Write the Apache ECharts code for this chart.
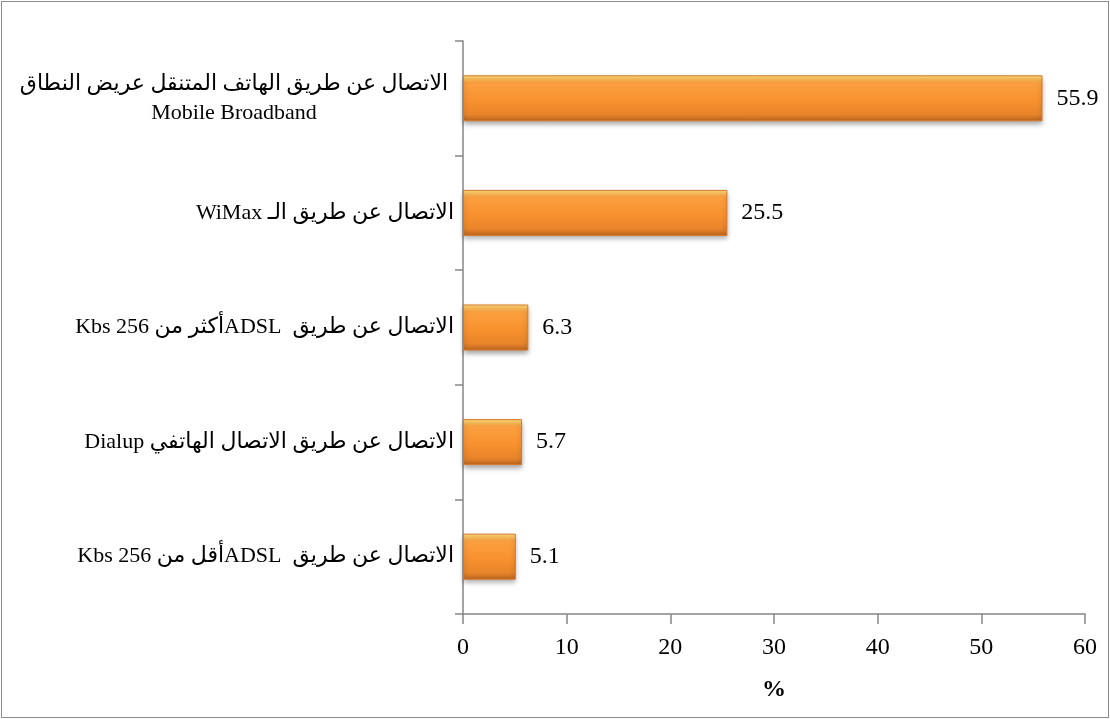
<!DOCTYPE html>
<html>
<head>
<meta charset="utf-8">
<script src="https://cdn.jsdelivr.net/npm/echarts@6/dist/echarts.min.js"></script>
<style>
  html, body { margin: 0; padding: 0; background: #fff; }
  #frame { position: absolute; left: 1px; top: 1px; width: 1106px; height: 715px; border: 1px solid #8c8c8c; }
  #chart { position: absolute; left: 0; top: 0; width: 1110px; height: 719px; }
</style>
</head>
<body>
<div id="frame"></div>
<div id="chart"></div>
<script>
// البيانات
var categories = [
    'الاتصال عن طريق الهاتف المتنقل عريض النطاق\nMobile Broadband',
    'الاتصال عن طريق الـ WiMax',
    'الاتصال عن طريق  ADSLأكثر من 256 Kbs',
    'الاتصال عن طريق الاتصال الهاتفي Dialup',
    'الاتصال عن طريق  ADSLأقل من 256 Kbs'
];
var values = [55.9, 25.5, 6.3, 5.7, 5.1];
var xTicks = { min: 0, max: 60, interval: 10 };

var FONT = "'Liberation Serif', 'DejaVu Sans', serif";

// تضمين النص باتجاه من اليمين لليسار
function rtl(s) {
    return '\u202B' + s + '\u202C';
}

var chart = echarts.init(document.getElementById('chart'));

var option = {
    animation: false,
    grid: { left: 463, right: 25, top: 41, bottom: 105 },
    xAxis: {
        type: 'value',
        min: xTicks.min,
        max: xTicks.max,
        interval: xTicks.interval,
        name: '%',
        nameLocation: 'middle',
        nameGap: 64,
        nameTextStyle: { fontFamily: FONT, fontSize: 24, fontWeight: 'bold', color: '#000' },
        axisLine: { show: true, lineStyle: { color: '#868686', width: 1.5 } },
        axisTick: { show: true, length: 10, lineStyle: { color: '#868686', width: 1.5 } },
        axisLabel: { fontFamily: FONT, fontSize: 24, color: '#000', margin: 22 },
        splitLine: { show: false }
    },
    yAxis: {
        type: 'category',
        inverse: true,
        data: categories,
        axisLine: { show: true, lineStyle: { color: '#868686', width: 1.5 } },
        axisTick: { show: true, length: 8, lineStyle: { color: '#868686', width: 1.5 } },
        axisLabel: {
            fontFamily: FONT,
            fontSize: 22,
            color: '#000',
            margin: 9,
            lineHeight: 29,
            formatter: function (v) {
                var parts = v.split('\n');
                if (parts.length > 1) {
                    return '{c|' + rtl(parts[0]) + '}\n{c|' + parts[1] + '}';
                }
                return rtl(v);
            },
            rich: {
                c: { fontFamily: FONT, fontSize: 22, color: '#000', width: 440, align: 'center', lineHeight: 29 }
            }
        }
    },
    series: [{
        type: 'bar',
        data: values,
        barWidth: 46,
        itemStyle: {
            color: new echarts.graphic.LinearGradient(0, 0, 0, 1, [
                { offset: 0, color: '#ffe27c' },
                { offset: 0.16, color: '#fca040' },
                { offset: 0.55, color: '#f8912e' },
                { offset: 0.85, color: '#e8842a' },
                { offset: 1, color: '#b8641e' }
            ]),
            borderColor: '#d9782a',
            borderWidth: 1,
            shadowColor: 'rgba(0,0,0,0.35)',
            shadowBlur: 5,
            shadowOffsetY: 3
        },
        label: {
            show: true,
            position: 'right',
            distance: 14,
            fontFamily: FONT,
            fontSize: 24,
            color: '#000'
        }
    }]
};

chart.setOption(option);
</script>
</body>
</html>
